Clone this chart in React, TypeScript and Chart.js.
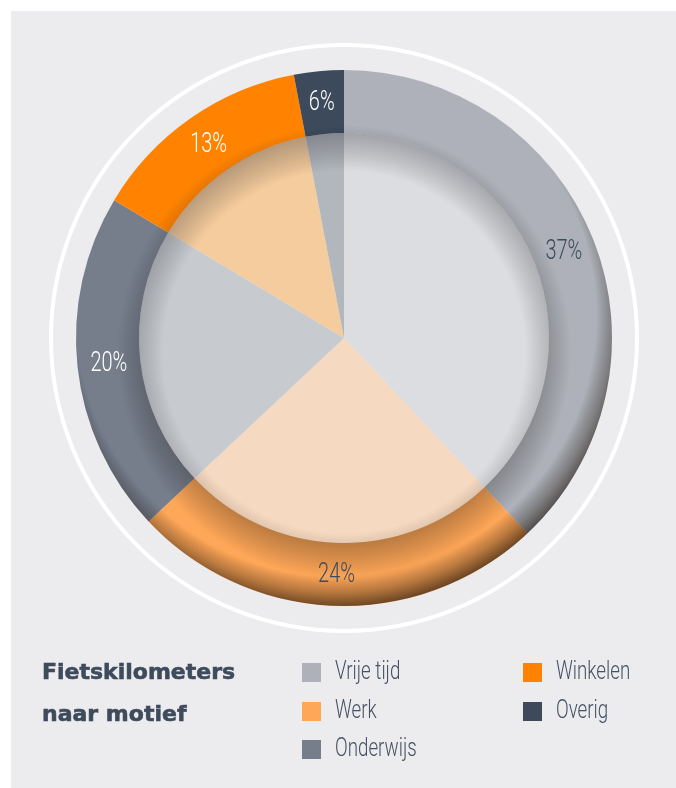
import React, { useEffect, useRef } from "react";
import { Chart, registerables } from "chart.js";
Chart.register(...registerables);

const categories = ["Vrije tijd", "Werk", "Onderwijs", "Winkelen", "Overig"];
const shares = [38, 25, 20.6, 13.4, 3];
const shareLabels = ["37%", "24%", "20%", "13%", "6%"];
const ringColors = ["#aeb1b9", "#ffa758", "#767e8c", "#ff8300", "#3c4a5b"];
const coreColors = ["#dcdde1", "#f6d9c1", "#c7cacf", "#f5cc9d", "#b2b6bd"];
const labelColors = ["#3d4b5c", "#3d4b5c", "#ffffff", "#ffffff", "#ffffff"];
const titleLines = ["Fietskilometers", "naar motief"];
const legendColumns = [[0, 1, 2], [3, 4]];

const SANS = 'Roboto, "Noto Sans", sans-serif';

const decor = {
  id: "decor",
  beforeDraw(chart: any) {
    const ctx = chart.ctx;
    ctx.save();
    ctx.fillStyle = "#ececee";
    ctx.fillRect(11, 11, chart.width - 11, chart.height - 11);
    ctx.restore();
  },
  beforeDatasetsDraw(chart: any) {
    const ctx = chart.ctx;
    const a = chart.getDatasetMeta(0).data[0];
    ctx.save();
    ctx.beginPath();
    ctx.arc(a.x, a.y, a.outerRadius + 25, 0, Math.PI * 2);
    ctx.strokeStyle = "#ffffff";
    ctx.lineWidth = 4;
    ctx.stroke();
    ctx.restore();
  },
  afterDatasetsDraw(chart: any) {
    const ctx = chart.ctx;
    const ring = chart.getDatasetMeta(0).data;
    const a = ring[0];
    const x = a.x, y = a.y, R = a.outerRadius, r = a.innerRadius;
    const W = chart.width, H = chart.height;

    // ring shading
    ctx.save();
    ctx.beginPath();
    ctx.arc(x, y, R, 0, Math.PI * 2);
    ctx.arc(x, y, r, 0, Math.PI * 2, true);
    ctx.clip();
    let ox = x - 8, oy = y - 22, rr = R + 22;
    let g = ctx.createRadialGradient(ox, oy, 0, ox, oy, rr);
    g.addColorStop(0, "rgba(0,0,0,0)");
    g.addColorStop((R - 8) / rr, "rgba(0,0,0,0)");
    g.addColorStop((R + 8) / rr, "rgba(25,15,5,0.3)");
    g.addColorStop(1, "rgba(25,15,5,0.62)");
    ctx.fillStyle = g;
    ctx.fillRect(0, 0, W, H);
    ox = x; oy = y + 14; rr = r + 22;
    g = ctx.createRadialGradient(ox, oy, 0, ox, oy, rr);
    g.addColorStop(0, "rgba(30,20,10,0.34)");
    g.addColorStop((r - 14) / rr, "rgba(30,20,10,0.3)");
    g.addColorStop(1, "rgba(0,0,0,0)");
    ctx.fillStyle = g;
    ctx.fillRect(0, 0, W, H);
    ctx.restore();

    // core edge shading
    ctx.save();
    ctx.beginPath();
    ctx.arc(x, y, r, 0, Math.PI * 2);
    ctx.clip();
    ox = x; oy = y + 14; rr = r + 14;
    g = ctx.createRadialGradient(ox, oy, 0, ox, oy, rr);
    g.addColorStop(0, "rgba(0,0,0,0)");
    g.addColorStop((r - 24) / rr, "rgba(0,0,0,0)");
    g.addColorStop(1, "rgba(30,30,40,0.3)");
    ctx.fillStyle = g;
    ctx.fillRect(0, 0, W, H);
    ctx.restore();

    // labels
    ring.forEach((arc: any, i: number) => {
      const p = arc.getCenterPoint();
      ctx.save();
      ctx.translate(p.x, p.y);
      ctx.scale(0.74, 1);
      ctx.font = "300 27px " + SANS;
      ctx.textAlign = "center";
      ctx.textBaseline = "middle";
      ctx.fillStyle = labelColors[i];
      ctx.fillText(shareLabels[i], 0, 1);
      ctx.restore();
    });
  },
};

export default function App() {
  const ref = useRef<HTMLCanvasElement>(null);
  useEffect(() => {
    if (!ref.current) return;
    const chart = new Chart(ref.current, {
      type: "doughnut",
      data: {
        labels: categories,
        datasets: [
          { data: shares, backgroundColor: ringColors, weight: 63, borderWidth: 0, hoverOffset: 0, offset: 0 } as any,
          { data: shares, backgroundColor: coreColors, weight: 205, borderWidth: 0, hoverOffset: 0, offset: 0 } as any,
        ],
      },
      options: {
        responsive: false,
        animation: false,
        cutout: 0,
        rotation: 0,
        layout: { padding: { left: 76, right: 64, top: 70, bottom: 182 } },
        plugins: { legend: { display: false }, tooltip: { enabled: false } },
        events: [],
      } as any,
      plugins: [decor],
    });
    return () => chart.destroy();
  }, []);

  const rowY = [672, 711, 749];
  const colX = [302, 523];
  return (
    <div style={{ position: "absolute", left: 0, top: 0, width: 676, height: 788 }}>
      <canvas ref={ref} width={676} height={788} style={{ position: "absolute", left: 0, top: 0 }} />
      {titleLines.map((t, i) => (
        <div
          key={t}
          style={{
            position: "absolute",
            left: 42,
            top: 675 + i * 42 - 16,
            height: 32,
            lineHeight: "32px",
            font: 'bold 22px "DejaVu Sans", sans-serif',
            color: "#3d4b5c",
            WebkitTextStroke: "0.6px #3d4b5c",
            whiteSpace: "nowrap",
          } as any}
        >
          {t}
        </div>
      ))}
      {legendColumns.map((col, c) =>
        col.map((idx, rI) => (
          <React.Fragment key={categories[idx]}>
            <div
              style={{
                position: "absolute",
                left: colX[c],
                top: rowY[rI] - 9,
                width: 19,
                height: 19,
                background: ringColors[idx],
              }}
            />
            <div
              style={{
                position: "absolute",
                left: colX[c] + 33,
                top: rowY[rI] - 16,
                height: 32,
                lineHeight: "32px",
                font: "300 25px " + SANS,
                color: "#465263",
                whiteSpace: "nowrap",
                transform: "scaleX(0.75)",
                transformOrigin: "left center",
              }}
            >
              {categories[idx]}
            </div>
          </React.Fragment>
        ))
      )}
    </div>
  );
}
